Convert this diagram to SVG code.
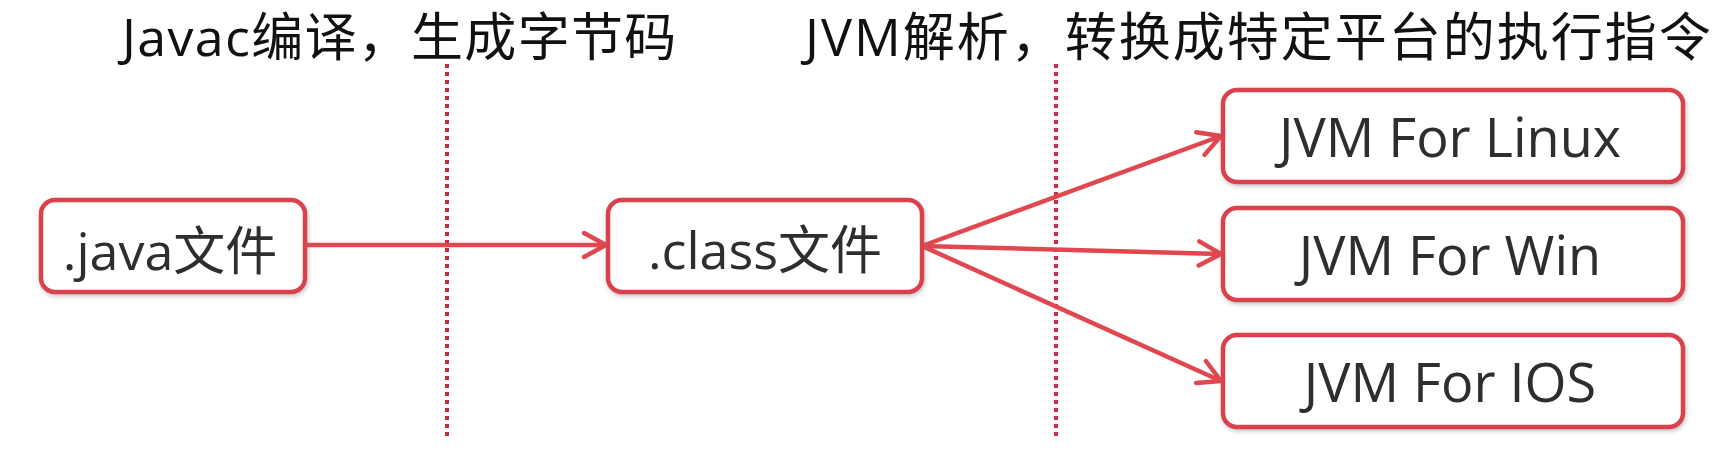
<svg xmlns="http://www.w3.org/2000/svg" width="1717" height="453" viewBox="0 0 1717 453">
<defs>
<style>
.title{font-family:"Open Sans","Noto Sans CJK SC",sans-serif;font-size:52px;fill:#111}
.box{fill:#fff;stroke:#d9434d;stroke-width:4.5;filter:url(#sh)}
.lbl{font-family:"Open Sans","Noto Sans CJK SC",sans-serif;font-size:52px;fill:#2e2e2e;text-anchor:middle}
.lblr{font-family:"Open Sans","Noto Sans CJK SC",sans-serif;font-size:54px;fill:#2e2e2e;text-anchor:middle}
.edge{stroke:#e0474f;stroke-width:4.5;fill:none;marker-end:url(#arr)}
.dot{stroke:#c42e40;stroke-width:4;stroke-dasharray:4 4;fill:none}
</style>
<filter id="sh" x="-10%" y="-20%" width="120%" height="140%">
<feDropShadow dx="1" dy="2" stdDeviation="2" flood-color="#777" flood-opacity="0.45"/>
</filter>
<marker id="arr" markerUnits="userSpaceOnUse" markerWidth="40" markerHeight="40" viewBox="-30 -20 40 40" refX="0" refY="0" orient="auto">
<path d="M-22,-12 L0,0 L-22,12" fill="none" stroke="#e0474f" stroke-width="4.5" stroke-linecap="round" stroke-linejoin="round"/>
</marker>
</defs>
<rect width="1717" height="453" fill="#fff"/>
<g id="titles">
<text class="title" x="122" y="56" letter-spacing="1.3">Javac编译，生成字节码</text>
<text class="title" x="805" y="56" letter-spacing="2">JVM解析，转换成特定平台的执行指令</text>
</g>
<g id="dividers">
<line class="dot" x1="447" y1="64" x2="447" y2="438"/>
<line class="dot" x1="1056" y1="64" x2="1056" y2="438"/>
</g>
<g id="connectors">
<line class="edge" x1="305" y1="245" x2="606" y2="245"/>
<line class="edge" x1="922" y1="246" x2="1221" y2="136"/>
<line class="edge" x1="922" y1="246" x2="1221" y2="254"/>
<line class="edge" x1="922" y1="246" x2="1221" y2="381"/>
</g>
<g id="java">
<rect class="box" x="41" y="200" width="264" height="92" rx="14"/>
<text class="lbl" x="170" y="270">.java文件</text>
</g>
<g id="class">
<rect class="box" x="608" y="200" width="314" height="92" rx="14"/>
<text class="lbl" x="765" y="269">.class文件</text>
</g>
<g id="linux">
<rect class="box" x="1223" y="90" width="460" height="92" rx="14"/>
<text class="lblr" x="1450" y="157">JVM For Linux</text>
</g>
<g id="win">
<rect class="box" x="1223" y="208" width="460" height="92" rx="14"/>
<text class="lblr" x="1450" y="275">JVM For Win</text>
</g>
<g id="ios">
<rect class="box" x="1223" y="335" width="460" height="92" rx="14"/>
<text class="lblr" x="1450" y="402">JVM For IOS</text>
</g>
</svg>
